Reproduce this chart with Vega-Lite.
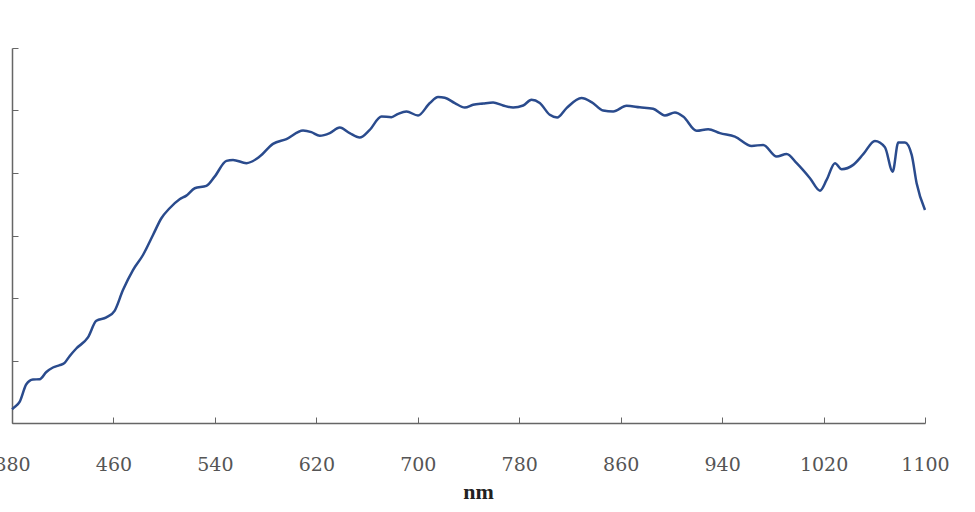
{
  "$schema": "https://vega.github.io/schema/vega-lite/v6.json",
  "width": 913,
  "height": 375,
  "autosize": {"type": "none"},
  "padding": {"left": 12, "top": 48, "right": 50, "bottom": 89},
  "background": "white",
  "config": {"view": {"stroke": null}, "axis": {"grid": false}},
  "data": {"values": [
    {"nm": 380, "v": 2.2}, {"nm": 381.5, "v": 2.47}, {"nm": 386, "v": 3.37}, {"nm": 391.3, "v": 6.2}, {"nm": 396.5, "v": 6.96},
    {"nm": 401.8, "v": 7.0}, {"nm": 407.1, "v": 8.17}, {"nm": 412.3, "v": 8.88}, {"nm": 417.6, "v": 9.25}, {"nm": 421.5, "v": 9.62},
    {"nm": 425.4, "v": 10.69}, {"nm": 430.7, "v": 11.92}, {"nm": 439.9, "v": 13.69}, {"nm": 446.5, "v": 16.35}, {"nm": 454.4, "v": 16.89},
    {"nm": 460.9, "v": 17.95}, {"nm": 467.5, "v": 21.27}, {"nm": 475.4, "v": 24.47}, {"nm": 483.3, "v": 26.88}, {"nm": 491.2, "v": 30.08},
    {"nm": 497.8, "v": 32.76}, {"nm": 504.3, "v": 34.36}, {"nm": 512.2, "v": 35.8}, {"nm": 517.5, "v": 36.38}, {"nm": 524.1, "v": 37.56},
    {"nm": 533.3, "v": 37.93}, {"nm": 539.8, "v": 39.42}, {"nm": 549.1, "v": 41.94}, {"nm": 554.3, "v": 42.1}, {"nm": 564.9, "v": 41.57},
    {"nm": 575.3, "v": 42.63}, {"nm": 585.8, "v": 44.66}, {"nm": 596.4, "v": 45.42}, {"nm": 609.5, "v": 46.79}, {"nm": 616.1, "v": 46.54},
    {"nm": 622.7, "v": 45.95}, {"nm": 630.6, "v": 46.38}, {"nm": 638.5, "v": 47.28}, {"nm": 646.3, "v": 46.38}, {"nm": 654.2, "v": 45.67},
    {"nm": 662.1, "v": 46.91}, {"nm": 671.4, "v": 49.04}, {"nm": 679.2, "v": 48.94}, {"nm": 684.5, "v": 49.47}, {"nm": 691.1, "v": 49.84},
    {"nm": 700.2, "v": 49.2}, {"nm": 709.5, "v": 51.19}, {"nm": 716.0, "v": 52.15}, {"nm": 721.3, "v": 52.04}, {"nm": 729.2, "v": 51.19},
    {"nm": 737.1, "v": 50.48}, {"nm": 743.6, "v": 50.91}, {"nm": 751.5, "v": 51.12}, {"nm": 759.4, "v": 51.28}, {"nm": 767.3, "v": 50.8},
    {"nm": 775.2, "v": 50.48}, {"nm": 783.1, "v": 50.8}, {"nm": 789.7, "v": 51.71}, {"nm": 796.2, "v": 51.19}, {"nm": 804.1, "v": 49.31},
    {"nm": 809.9, "v": 48.88}, {"nm": 817.3, "v": 50.38}, {"nm": 829.1, "v": 51.99}, {"nm": 837.0, "v": 51.35}, {"nm": 846.2, "v": 50.0},
    {"nm": 854.1, "v": 49.84}, {"nm": 864.6, "v": 50.75}, {"nm": 875.1, "v": 50.51}, {"nm": 885.6, "v": 50.27}, {"nm": 894.9, "v": 49.2},
    {"nm": 902.8, "v": 49.68}, {"nm": 909.3, "v": 49.04}, {"nm": 919.9, "v": 46.75}, {"nm": 929.0, "v": 47.02}, {"nm": 938.3, "v": 46.38},
    {"nm": 950.1, "v": 45.83}, {"nm": 963.3, "v": 44.34}, {"nm": 972.4, "v": 44.5}, {"nm": 983.0, "v": 42.63}, {"nm": 990.9, "v": 43.06},
    {"nm": 998.8, "v": 41.57}, {"nm": 1009.3, "v": 39.17}, {"nm": 1017.2, "v": 37.18}, {"nm": 1022.4, "v": 38.89}, {"nm": 1029.0, "v": 41.57},
    {"nm": 1034.3, "v": 40.61}, {"nm": 1043.4, "v": 41.3}, {"nm": 1051.3, "v": 43.01}, {"nm": 1060.5, "v": 45.14}, {"nm": 1068.4, "v": 44.13},
    {"nm": 1074.5, "v": 40.22}, {"nm": 1078.9, "v": 44.87}, {"nm": 1084.2, "v": 44.87}, {"nm": 1089.5, "v": 42.9}, {"nm": 1093.4, "v": 38.37},
    {"nm": 1100, "v": 34.09}
  ]},
  "mark": {"type": "line", "color": "#2a4b8d", "strokeWidth": 2.5, "interpolate": "monotone"},
  "encoding": {
    "x": {
      "field": "nm", "type": "quantitative",
      "scale": {"domain": [380, 1100], "nice": false, "zero": false},
      "axis": {
        "values": [380, 460, 540, 620, 700, 780, 860, 940, 1020, 1100],
        "format": "d",
        "title": "nm",
        "titleFont": "Liberation Serif", "titleFontSize": 22, "titleFontWeight": "bold", "titleColor": "#222",
        "titleBaseline": "alphabetic", "titleY": 75, "titleX": 466, "titleAnchor": "middle", "titleAlign": "center",
        "labelFont": "DejaVu Serif", "labelFontSize": 19, "labelColor": "#555",
        "labelPadding": 38, "labelFlush": false, "labelOverlap": false,
        "tickSize": -6, "tickColor": "#666", "domainColor": "#666", "domainWidth": 1.5
      }
    },
    "y": {
      "field": "v", "type": "quantitative",
      "scale": {"domain": [0, 60], "nice": false},
      "axis": {
        "values": [0, 10, 20, 30, 40, 50, 60],
        "labels": false, "title": null,
        "tickSize": -6, "tickColor": "#666", "domainColor": "#666", "domainWidth": 1.5
      }
    }
  }
}
